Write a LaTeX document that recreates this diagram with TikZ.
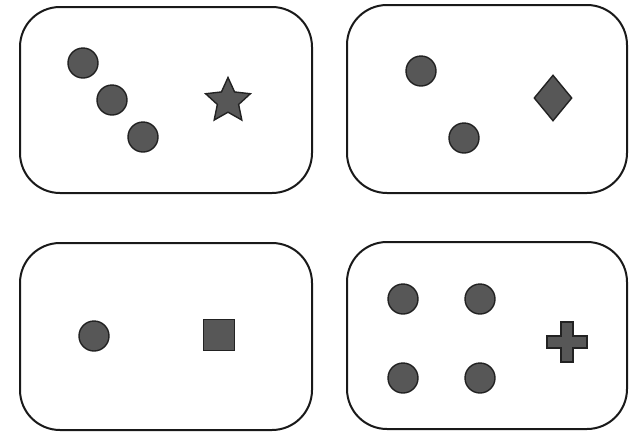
\documentclass[tikz,border=0pt]{standalone}
\usetikzlibrary{shapes.geometric}
\definecolor{shapefill}{HTML}{575757}
\definecolor{shapeline}{HTML}{222222}
\tikzset{
  panel/.style={draw=black!90, line width=2pt, rounded corners=40pt, inner sep=0pt, fill=white},
  dot/.style={circle, draw=shapeline, line width=1.4pt, fill=shapefill, minimum size=30pt, inner sep=0pt},
  starshape/.style={star, star points=5, star point ratio=2.1, draw=shapeline, line width=1.4pt, fill=shapefill, minimum size=47pt, inner sep=0pt},
  diamondshape/.style={diamond, draw=shapeline, line width=1.4pt, fill=shapefill, minimum width=38pt, minimum height=46pt, inner sep=0pt},
  squareshape/.style={rectangle, draw=shapeline, line width=1.4pt, fill=shapefill, minimum size=31pt, inner sep=0pt},
  plusshape/.style={draw=shapeline, line width=1.4pt, fill=shapefill}
}
\begin{document}
\begin{tikzpicture}[x=1pt,y=-1pt]
\useasboundingbox (0,0) rectangle (630,432);
\fill[white] (0,0) rectangle (630,432);
% panels
\node[panel, minimum width=292pt, minimum height=186pt] (p1) at (166,100) {};
\node[panel, minimum width=280pt, minimum height=188pt] (p2) at (487,99) {};
\node[panel, minimum width=292pt, minimum height=187pt] (p3) at (166,336.5) {};
\node[panel, minimum width=280pt, minimum height=187pt] (p4) at (487,335.5) {};
% panel 1
\node[dot] (a1) at (83,63) {};
\node[dot] (a2) at (112,100) {};
\node[dot] (a3) at (143,137) {};
\node[starshape] (s1) at (228,101) {};
% panel 2
\node[dot] (b1) at (421,71) {};
\node[dot] (b2) at (464,138) {};
\node[diamondshape] (d1) at (553,98) {};
% panel 3
\node[dot] (c1) at (94,336) {};
\node[squareshape] (q1) at (219,335) {};
% panel 4
\node[dot] (e1) at (403,299) {};
\node[dot] (e2) at (480,299) {};
\node[dot] (e3) at (403,378) {};
\node[dot] (e4) at (480,378) {};
\coordinate (x1) at (567,342);
\draw[plusshape] ([shift={(-6,-20)}]x1) -- ([shift={(6,-20)}]x1) -- ([shift={(6,-6)}]x1)
  -- ([shift={(20,-6)}]x1) -- ([shift={(20,6)}]x1) -- ([shift={(6,6)}]x1)
  -- ([shift={(6,20)}]x1) -- ([shift={(-6,20)}]x1) -- ([shift={(-6,6)}]x1)
  -- ([shift={(-20,6)}]x1) -- ([shift={(-20,-6)}]x1) -- ([shift={(-6,-6)}]x1) -- cycle;
\end{tikzpicture}
\end{document}
